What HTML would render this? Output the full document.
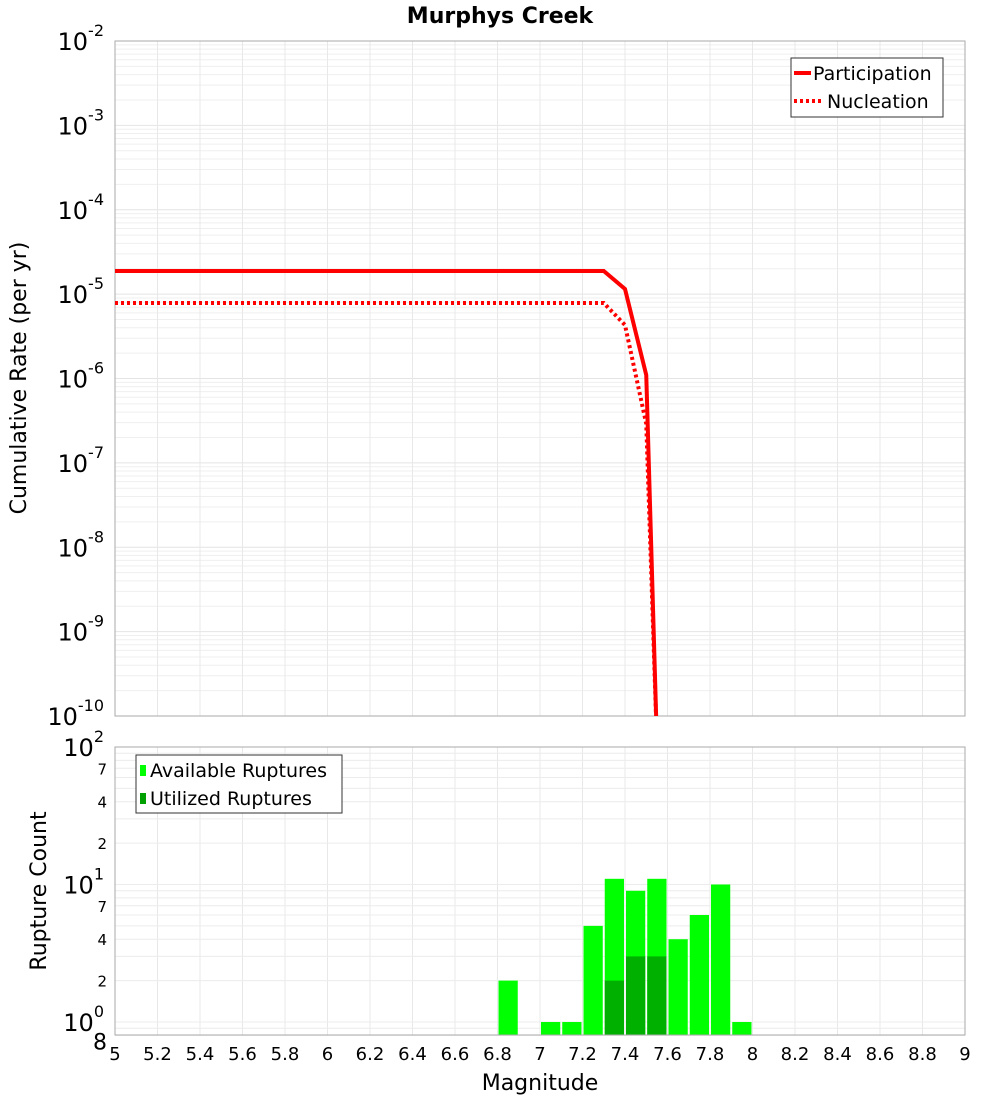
<!DOCTYPE html>
<html><head><meta charset="utf-8"><style>
body{margin:0;background:#fff}
svg{display:block;font-family:"DejaVu Sans","Liberation Sans",sans-serif}
</style></head><body>
<svg id="c" width="1000" height="1100">
<text x="500" y="23" font-size="22" font-weight="bold" text-anchor="middle">Murphys Creek</text>
<g id="topplot"></g>
<g id="botplot"></g>
<text transform="translate(26,378) rotate(-90)" font-size="22" text-anchor="middle">Cumulative Rate (per yr)</text>
<text transform="translate(46,891) rotate(-90)" font-size="22" text-anchor="middle">Rupture Count</text>
<text x="540" y="1090" font-size="22" text-anchor="middle">Magnitude</text>
</svg>
<script>
const partMags=[5,7.3,7.4,7.5,7.55];
const partRates=[1.88e-5,1.88e-5,1.15e-5,1.1e-6,5e-11];
const nuclMags=[5,7.3,7.4,7.5,7.55];
const nuclRates=[7.85e-6,7.85e-6,4.3e-6,2.9e-7,5e-11];
const binStarts=[6.8,7.0,7.1,7.2,7.3,7.4,7.5,7.6,7.7,7.8,7.9];
const availCounts=[2,1,1,5,11,9,11,4,6,10,1];
const usedCounts=[0,0,0,0,2,3,3,0,0,0,0];
const xTicks=["5","5.2","5.4","5.6","5.8","6","6.2","6.4","6.6","6.8","7","7.2","7.4","7.6","7.8","8","8.2","8.4","8.6","8.8","9"];
const topExps=[-2,-3,-4,-5,-6,-7,-8,-9,-10];
const NS="http://www.w3.org/2000/svg";
const L=115,R=965;
function X(m){return L+(m-5)/4*(R-L);}
const T0=41,T1=716;function YT(v){return T0+(-2-Math.log10(v))/8*(T1-T0);}
const B0=747,B1=1035;function YB(v){return 1022-Math.log10(v)*137.5;}
function mk(p,tag,at,txt){const e=document.createElementNS(NS,tag);for(const k in at)e.setAttribute(k,at[k]);if(txt!==undefined)e.textContent=txt;p.appendChild(e);return e;}
const topG=document.getElementById('topplot'),botG=document.getElementById('botplot'),svg=document.getElementById('c');
for(let d=-10;d<-2;d++)for(let k=1;k<10;k++){const y=YT(k*Math.pow(10,d));const g=mk(topG,'line',{x1:L,x2:R,y1:y,y2:y,stroke:k==1?'#e4e4e4':'#efefef','stroke-width':1});

}
xTicks.forEach((t,i)=>{const x=X(+t);const g=mk(topG,'line',{x1:x,x2:x,y1:T0,y2:T1,stroke:'#e8e8e8'});


const g2=mk(botG,'line',{x1:x,x2:x,y1:B0,y2:B1,stroke:'#e8e8e8'});


const tx=mk(svg,'text',{x:x,y:1060,'font-size':18,'text-anchor':'middle'},t);

});
function bigLabel(x,y,e){const tx=mk(svg,'text',{x:x,y:y+9,'font-size':24,'text-anchor':'end'});
const s1=mk(tx,'tspan',{},'10');const s2=mk(tx,'tspan',{dy:-14,'font-size':16},String(e));return tx;}
topExps.forEach(e=>{const tx=bigLabel(104,YT(Math.pow(10,e)),e);

});
mk(topG,'rect',{x:L,y:T0,width:R-L,height:T1-T0,fill:'none',stroke:'#aaa'});
const defs=mk(svg,'defs',{});const cp=mk(defs,'clipPath',{id:'cp'});mk(cp,'rect',{x:L,y:T0,width:R-L,height:T1-T0});
const lineG=mk(svg,'g',{'clip-path':'url(#cp)'});
function line(mags,rates,dash,name){const p=mags.map((m,i)=>X(m)+','+YT(rates[i])).join(' ');const e=mk(lineG,'polyline',{points:p,fill:'none',stroke:'#ff0000','stroke-width':4,'stroke-dasharray':dash||'none'});

}
line(partMags,partRates,null,'participation-line');
line(nuclMags,nuclRates,'3,3','nucleation-line');
mk(svg,'rect',{x:791,y:58,width:152,height:59,fill:'#fff',stroke:'#333'});
mk(svg,'line',{x1:794,x2:811,y1:73,y2:73,stroke:'red','stroke-width':4});
mk(svg,'line',{x1:794,x2:823,y1:101,y2:101,stroke:'red','stroke-width':4,'stroke-dasharray':'3,3'});
mk(svg,'text',{x:813,y:80,'font-size':19},'Participation');
mk(svg,'text',{x:827,y:108,'font-size':19},'Nucleation');
for(let d=-1;d<2;d++)for(let k=1;k<10;k++){const v=k*Math.pow(10,d);if(v<0.8)continue;const y=YB(v);const g=mk(botG,'line',{x1:L,x2:R,y1:y,y2:y,stroke:'#ececec'});

}
[[100,'big',2],[70,'7'],[40,'4'],[20,'2'],[10,'big',1],[7,'7'],[4,'4'],[2,'2'],[1,'big',0],[0.8,'8']].forEach(a=>{const y=YB(a[0]);let tx;
if(a[1]=='big'){tx=bigLabel(104,y,a[2]);}
else tx=mk(svg,'text',{x:107,y:y+(a[0]==0.8?14:6),'font-size':a[0]==0.8?22:15,'text-anchor':'end'},a[1]);

});
binStarts.forEach((m,i)=>{const x0=X(m)+1,w=X(m+0.1)-X(m)-2;
const r=mk(botG,'rect',{x:x0,y:YB(availCounts[i]),width:w,height:B1-YB(availCounts[i]),fill:'#00ff00'});


if(usedCounts[i]>0){const r2=mk(botG,'rect',{x:x0,y:YB(usedCounts[i]),width:w,height:B1-YB(usedCounts[i]),fill:'#00b000'});

}});
mk(botG,'rect',{x:L,y:B0,width:R-L,height:B1-B0,fill:'none',stroke:'#aaa'});
mk(svg,'rect',{x:136,y:755,width:206,height:58,fill:'#fff',stroke:'#333'});
mk(svg,'rect',{x:140,y:765,width:6,height:11,fill:'#00ff00'});
mk(svg,'rect',{x:140,y:793,width:6,height:11,fill:'#00a000'});
mk(svg,'text',{x:150,y:777,'font-size':19},'Available Ruptures');
mk(svg,'text',{x:150,y:805,'font-size':19},'Utilized Ruptures');
</script>
</body></html>
